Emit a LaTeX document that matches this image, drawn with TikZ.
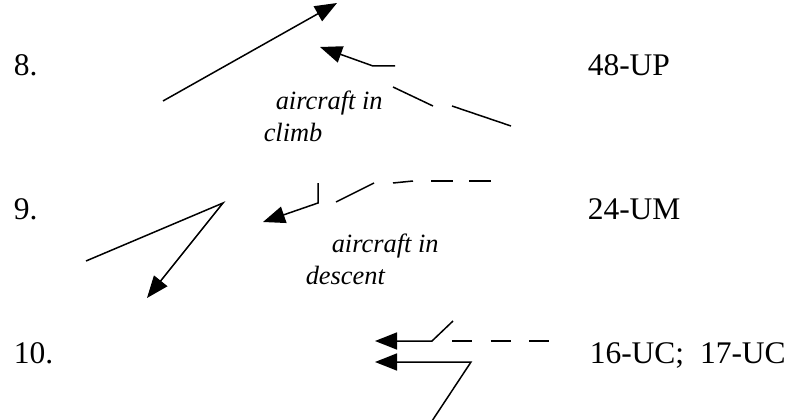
\documentclass[tikz,border=0pt]{standalone}
\usepackage{fontspec}
\setmainfont{Liberation Serif}
\usetikzlibrary{arrows.meta}

\begin{document}
\begin{tikzpicture}[x=1pt, y=-1pt, line width=1.5pt,
    lbl/.style={anchor=base west, inner sep=0pt, font=\fontsize{31.5}{36}\selectfont},
    note/.style={anchor=base west, inner sep=0pt, font=\fontsize{26.4}{30}\selectfont\itshape},
    track/.style={-{Triangle[length=22pt, width=17pt]}}]
    \useasboundingbox (0,0) rectangle (788,420);

    \node[lbl] (n8) at (13,76) {8.};
    \node[lbl] (up) at (587,76) {48-UP};
    \node[lbl] (n9) at (13,219) {9.};
    \node[lbl] (um) at (587,219) {24-UM};
    \node[lbl] (n10) at (13,363) {10.};
    \node[lbl] (uc) at (589,363) {16-UC;\ \ 17-UC};

    \coordinate (c0) at (163,101);
    \coordinate (c1) at (337,3);
    \coordinate (c2) at (320,47);
    \coordinate (c3) at (373,66);
    \coordinate (c4) at (395,66);
    \draw[track] (c0) -- (c1);
    \draw[track] (c4) -- (c3) -- (c2);
    \draw (393,87) -- (433,106);
    \draw (452,106) -- (511,126);
    \node[note] (climbA) at (275,110) {aircraft in};
    \node[note] (climbB) at (263,142) {climb};

    \coordinate (d0) at (86,261);
    \coordinate (d1) at (223,203);
    \coordinate (d2) at (147,298);
    \coordinate (d3) at (263,222);
    \coordinate (d4) at (318,203);
    \coordinate (d5) at (318,183);
    \draw[track] (d0) -- (d1) -- (d2);
    \draw[track] (d5) -- (d4) -- (d3);
    \draw (336,202) -- (374,183);
    \draw (393,183) -- (413,181);
    \draw (431,181) -- (453,181);
    \draw (469,181) -- (491,181);
    \node[note] (descA) at (331,252) {aircraft in};
    \node[note] (descB) at (305,284) {descent};

    \coordinate (l0) at (375,341);
    \coordinate (l1) at (432,341);
    \coordinate (l2) at (453,321);
    \coordinate (l3) at (375,362);
    \coordinate (l4) at (471,362);
    \coordinate (l5) at (432,421);
    \draw[track] (l2) -- (l1) -- (l0);
    \draw[dash pattern=on 20pt off 18.5pt] (452,341) -- (549,341);
    \draw[track] (l5) -- (l4) -- (l3);
\end{tikzpicture}
\end{document}
